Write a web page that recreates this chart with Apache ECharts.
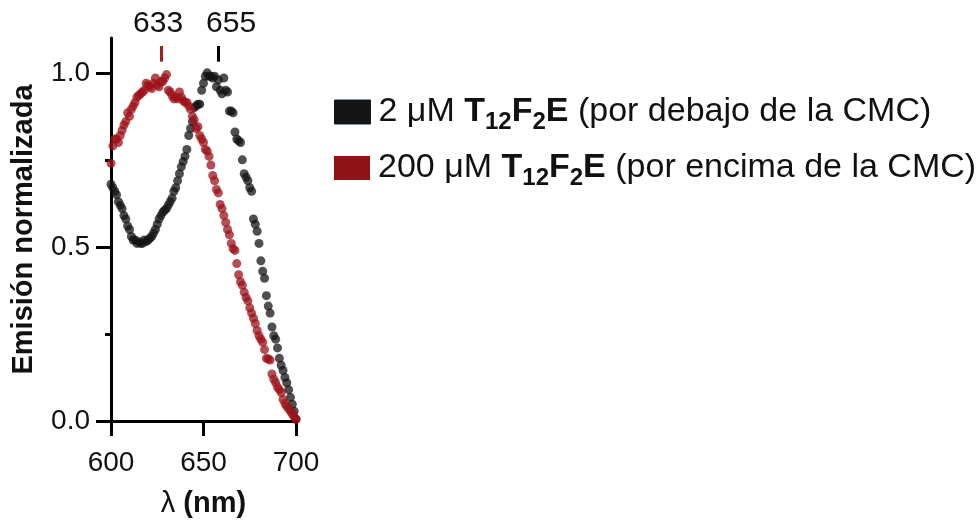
<!DOCTYPE html>
<html>
<head>
<meta charset="utf-8">
<script src="https://cdn.jsdelivr.net/npm/echarts@6/dist/echarts.min.js"></script>
<style>html,body{margin:0;padding:0;background:#fff}#c{width:978px;height:523px}</style>
</head>
<body>
<div id="c"></div>
<script>
// Wavelength grid (nm)
const wavelengths = [600,601,602,603,604,605,606,607,608,609,610,611,612,613,614,615,616,617,618,619,620,621,622,623,624,625,626,627,628,629,630,631,632,633,634,635,636,637,638,639,640,641,642,643,644,645,646,647,648,649,650,651,652,653,654,655,656,657,658,659,660,661,662,663,664,665,666,667,668,669,670,671,672,673,674,675,676,677,678,679,680,681,682,683,684,685,686,687,688,689,690,691,692,693,694,695,696,697,698,699,700];
// 2 uM (below CMC) normalized emission
const lowConc = [0.68,0.67,0.66,0.65,0.63,0.62,0.61,0.59,0.58,0.56,0.55,0.53,0.52,0.52,0.51,0.515,0.51,0.51,0.52,0.515,0.52,0.525,0.53,0.54,0.55,0.565,0.58,0.59,0.60,0.605,0.61,0.62,0.63,0.64,0.66,0.67,0.69,0.71,0.73,0.745,0.76,0.78,0.82,0.84,0.86,0.90,0.905,0.91,0.91,0.95,0.97,0.99,1.00,0.99,0.99,0.985,0.99,0.96,0.98,0.95,0.94,0.985,0.95,0.945,0.89,0.89,0.885,0.83,0.81,0.805,0.80,0.75,0.71,0.70,0.69,0.67,0.66,0.58,0.565,0.545,0.51,0.46,0.43,0.41,0.36,0.33,0.31,0.27,0.245,0.235,0.21,0.18,0.16,0.145,0.125,0.11,0.09,0.068,0.048,0.028,0.005];
// 200 uM (above CMC) normalized emission
const highConc = [0.74,0.79,0.81,0.81,0.80,0.82,0.835,0.85,0.86,0.885,0.875,0.895,0.905,0.915,0.93,0.935,0.94,0.945,0.95,0.97,0.965,0.96,0.955,0.97,0.985,0.965,0.96,0.975,0.975,0.985,0.995,0.95,0.945,0.935,0.925,0.93,0.925,0.945,0.93,0.92,0.915,0.915,0.905,0.895,0.875,0.865,0.84,0.845,0.82,0.81,0.80,0.78,0.775,0.76,0.735,0.705,0.69,0.665,0.655,0.622,0.61,0.59,0.57,0.55,0.535,0.51,0.495,0.49,0.452,0.42,0.40,0.39,0.37,0.355,0.345,0.325,0.31,0.295,0.28,0.26,0.245,0.235,0.226,0.205,0.18,0.178,0.175,0.135,0.12,0.11,0.097,0.09,0.082,0.062,0.05,0.042,0.035,0.028,0.02,0.012,0.005];

const xTicks = [600,650,700];
const yTicks = [0,0.5,1.0];
const yMinorTicks = [0.25,0.75];
const seriesNames = ['2 μM T12F2E (por debajo de la CMC)','200 μM T12F2E (por encima de la CMC)'];
const legendPrefix = ['2 μM ','200 μM '];
const legendSuffix = [' (por debajo de la CMC)',' (por encima de la CMC)'];
const peakLabels = ['633','655'];
const peakTickX = [627.1, 657.9];

const FONT = '"Liberation Sans", Arial, sans-serif';
const RED = '#9c1118';
const BLACK = '#141414';

function toPairs(xs, ys){ return xs.map((x,i)=>[x, ys[i]]); }

const richStyles = {
  p:{fontSize:34,fontFamily:FONT,color:'#111',lineHeight:44,padding:[0,0,0,3]},
  n:{fontSize:34,fontFamily:FONT,color:'#111',lineHeight:44},
  b:{fontSize:34,fontFamily:FONT,color:'#111',fontWeight:'bold',lineHeight:44},
  s:{fontSize:24,fontFamily:FONT,color:'#111',fontWeight:'bold',lineHeight:20,verticalAlign:'bottom'}
};
function legendText(i){
  return '{p|'+legendPrefix[i]+'}{b|T}{s|12}{b|F}{s|2}{b|E}{n|'+legendSuffix[i]+'}';
}

const chart = echarts.init(document.getElementById('c'), null, {renderer:'canvas'});
const option = {
  animation:false,
  backgroundColor:'#fff',
  grid:{left:111, right:682, top:38, bottom:96, containLabel:false},
  xAxis:{
    type:'value', min:600, max:700, interval:50,
    name:'{l|λ}{l| }{b|(nm)}', nameLocation:'middle', nameGap:68,
    nameTextStyle:{rich:{l:{fontSize:29,fontFamily:FONT,color:'#111'},b:{fontSize:29,fontFamily:FONT,fontWeight:'bold',color:'#111'}}},
    axisLine:{show:true,onZero:false,lineStyle:{color:'#000',width:3}},
    axisTick:{show:true,length:15,lineStyle:{color:'#000',width:3},customValues:xTicks},
    axisLabel:{fontSize:28,fontFamily:FONT,color:'#111',margin:28,customValues:xTicks},
    splitLine:{show:false}
  },
  yAxis:[{
    type:'value', min:0, max:1.1,
    name:'Emisión normalizada', nameLocation:'middle', nameGap:73, nameRotate:90,
    nameTextStyle:{fontSize:29,fontFamily:FONT,fontWeight:'bold',color:'#111'},
    axisLine:{show:true,onZero:false,lineStyle:{color:'#000',width:3}},
    axisTick:{show:true,length:15,lineStyle:{color:'#000',width:3},customValues:yTicks},
    axisLabel:{fontSize:28,fontFamily:FONT,color:'#111',margin:21,customValues:yTicks,formatter:v=>v.toFixed(1)},
    splitLine:{show:false}
  },{
    type:'value', min:0, max:1.1, position:'left',
    axisLine:{show:false},
    axisTick:{show:true,length:6,lineStyle:{color:'#000',width:3},customValues:yMinorTicks},
    axisLabel:{show:false},
    splitLine:{show:false}
  }],
  legend:[{
    data:[{name:seriesNames[0],itemStyle:{color:BLACK,opacity:1,borderColor:'#0c1a2a',borderWidth:1}}],
    left:329, top:90, orient:'vertical', icon:'rect', itemWidth:36, itemHeight:24,
    selectedMode:false, formatter:()=>legendText(0), textStyle:{rich:richStyles}
  },{
    data:[{name:seriesNames[1],itemStyle:{color:'#8e1217',opacity:1}}],
    left:329, top:146, orient:'vertical', icon:'rect', itemWidth:36, itemHeight:24,
    selectedMode:false, formatter:()=>legendText(1), textStyle:{rich:richStyles}
  }],
  series:[{
    name:seriesNames[0], type:'scatter', symbolSize:9, clip:false,
    itemStyle:{color:BLACK,opacity:0.75},
    data:toPairs(wavelengths, lowConc),
    markLine:{silent:true,symbol:['none','none'],
      label:{show:true,position:'end',formatter:peakLabels[1],fontSize:30,fontFamily:FONT,color:'#111',distance:7,offset:[13,0]},
      lineStyle:{color:'#000',width:3,type:'solid'},
      data:[[{coord:[peakTickX[1],1.032]},{coord:[peakTickX[1],1.077]}]]}
  },{
    name:seriesNames[1], type:'scatter', symbolSize:9, clip:false,
    itemStyle:{color:RED,opacity:0.75},
    data:toPairs(wavelengths, highConc),
    markLine:{silent:true,symbol:['none','none'],
      label:{show:true,position:'end',formatter:peakLabels[0],fontSize:30,fontFamily:FONT,color:'#111',distance:7,offset:[-3,0]},
      lineStyle:{color:'#a81c22',width:3,type:'solid'},
      data:[[{coord:[peakTickX[0],1.032]},{coord:[peakTickX[0],1.077]}]]}
  }]
};
chart.setOption(option);
</script>
</body>
</html>
